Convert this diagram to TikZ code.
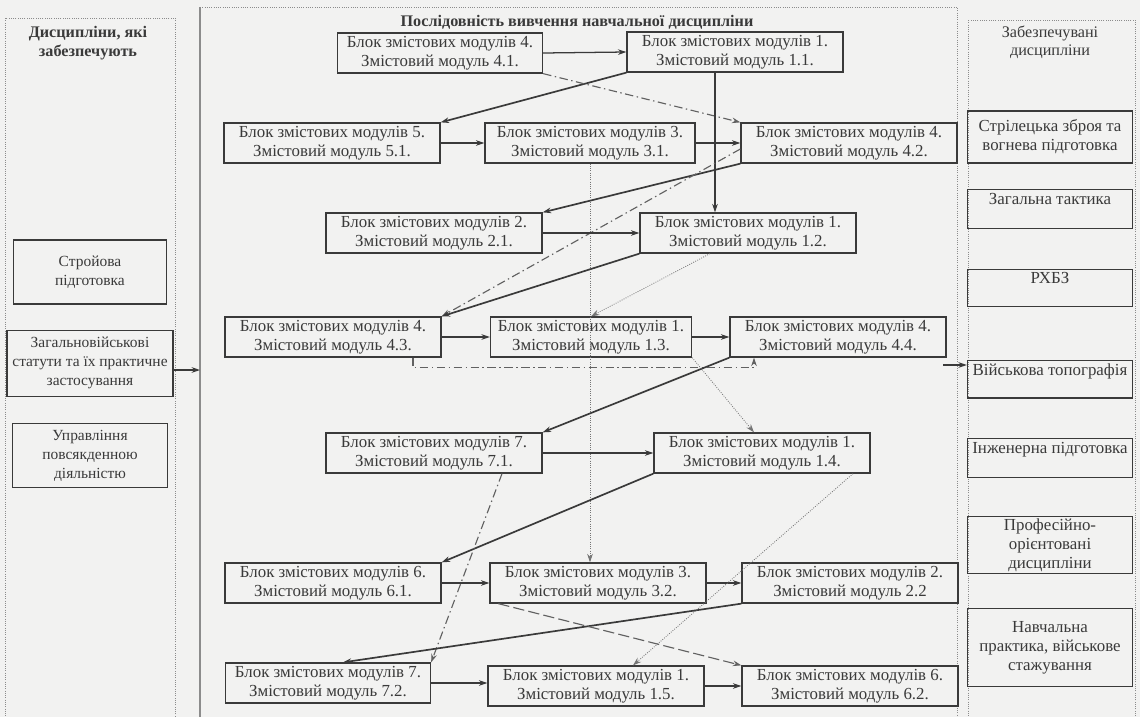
\documentclass[tikz,border=0pt]{standalone}
\usepackage{fontspec}
\setmainfont{Liberation Serif}
\usetikzlibrary{positioning, arrows.meta}

\definecolor{ink}{HTML}{3A3A3A}
\definecolor{paper}{HTML}{F2F2F1}
\definecolor{frame}{HTML}{8C8C8C}

\tikzset{
  blk/.style = {draw = ink, line width = 0.9pt, align = center, text = ink, minimum width = 5.4cm,
    minimum height = 1cm, inner sep = 1pt, font = \fontsize{12}{13.5}\selectfont},
  side/.style = {blk, minimum width = 4.125cm},
  lside/.style = {side, font = \fontsize{11}{13.5}\selectfont},
  upper/.style = {text depth = 0.5cm},
  head/.style = {align = center, text = ink, font = \fontsize{11.5}{13}\selectfont},
  arr/.style = {draw = ink, line width = 0.9pt, -{Stealth[length = 6pt, width = 4pt]}},
  heavy/.style = {arr, line width = 1.2pt},
  dashdot/.style = {arr, line width = 0.8pt, draw = ink!80, dash pattern = on 6pt off 2.5pt on 1pt off 2.5pt},
  thin/.style = {arr, line width = 0.6pt, draw = ink!70, densely dotted},
  panel/.style = {draw = frame, line width = 0.6pt, densely dotted},
}

\begin{document}
\begin{tikzpicture}[x = 0.025cm, y = -0.025cm]
  \fill[paper] (0,0) rectangle (1140,717);
  \useasboundingbox (0,0) rectangle (1140,717);
  \clip (0,0) rectangle (1140,717);

  \draw[panel] (5,18) rectangle (175,730);
  \draw[panel] (200,7) -- (957,7) -- (957,730);
  \draw[frame, line width = 1.6pt] (200,7) -- (200,730);
  \draw[panel] (968,20) rectangle (1135,730);

  \node[head, font = \bfseries\fontsize{11.5}{13}\selectfont] (lt) at (88, 43) {Дисципліни, які\\забезпечують};
  \node[head, font = \bfseries\fontsize{11.5}{13}\selectfont] (mt) at (577, 22) {Послідовність вивчення навчальної дисципліни};
  \node[head] (rt) at (1050, 42) {Забезпечувані\\дисципліни};

  \node[lside, minimum width = 3.825cm, minimum height = 1.6cm] (lp1) at (90, 272) {Стройова\\підготовка};
  \node[lside, minimum width = 4.15cm, minimum height = 1.65cm, below = 0.625cm of lp1] (lp2) {Загальновійськові\\статути та їх практичне\\застосування};
  \node[lside, minimum width = 3.875cm, minimum height = 1.6cm, below = 0.65cm of lp2] (lp3) {Управління\\повсякденною\\діяльністю};

  \node[side, minimum height = 1.3cm] (rp1) at (1050, 137) {Стрілецька зброя та\\вогнева підготовка};
  \node[side, upper, minimum height = 0.975cm, below = 0.625cm of rp1] (rp2) {Загальна тактика};
  \node[side, upper, minimum height = 0.925cm, below = 1cm of rp2] (rp3) {РХБЗ};
  \node[side, upper, minimum height = 0.925cm, below = 1.325cm of rp3] (rp4) {Військова топографія};
  \node[side, upper, minimum height = 0.975cm, below = 0.975cm of rp4] (rp5) {Інженерна підготовка};
  \node[side, minimum height = 1.425cm, below = 0.95cm of rp5] (rp6) {Професійно-\\орієнтовані\\дисципліни};
  \node[side, minimum height = 1.95cm, below = 0.85cm of rp6] (rp7) {Навчальна\\практика, військове\\стажування};

  \node[blk, minimum width = 5.125cm] (b41) at (440, 53) {Блок змістових модулів 4.\\Змістовий модуль 4.1.};
  \node[blk] (b11) at (735, 52) {Блок змістових модулів 1.\\Змістовий модуль 1.1.};
  \node[blk] (b51) at (332, 143) {Блок змістових модулів 5.\\Змістовий модуль 5.1.};
  \node[blk, minimum width = 5.25cm] (b31) at (590, 143) {Блок змістових модулів 3.\\Змістовий модуль 3.1.};
  \node[blk] (b42) at (849, 143) {Блок змістових модулів 4.\\Змістовий модуль 4.2.};
  \node[blk] (b21) at (434, 233) {Блок змістових модулів 2.\\Змістовий модуль 2.1.};
  \node[blk] (b12) at (748, 233) {Блок змістових модулів 1.\\Змістовий модуль 1.2.};
  \node[blk] (b43) at (333, 337) {Блок змістових модулів 4.\\Змістовий модуль 4.3.};
  \node[blk, minimum width = 5.025cm] (b13) at (591, 337) {Блок змістових модулів 1.\\Змістовий модуль 1.3.};
  \node[blk] (b44) at (838, 337) {Блок змістових модулів 4.\\Змістовий модуль 4.4.};
  \node[blk] (b71) at (434, 453) {Блок змістових модулів 7.\\Змістовий модуль 7.1.};
  \node[blk] (b14) at (762, 453) {Блок змістових модулів 1.\\Змістовий модуль 1.4.};
  \node[blk] (b61) at (333, 583) {Блок змістових модулів 6.\\Змістовий модуль 6.1.};
  \node[blk] (b32) at (598, 583) {Блок змістових модулів 3.\\Змістовий модуль 3.2.};
  \node[blk] (b22) at (850, 583) {Блок змістових модулів 2.\\Змістовий модуль 2.2};
  \node[blk, minimum width = 5.125cm] (b72) at (328, 683) {Блок змістових модулів 7.\\Змістовий модуль 7.2.};
  \node[blk] (b15) at (596, 686) {Блок змістових модулів 1.\\Змістовий модуль 1.5.};
  \node[blk] (b62) at (850, 686) {Блок змістових модулів 6.\\Змістовий модуль 6.2.};

  \coordinate (mw) at (200, 370);
  \coordinate (me) at (943, 365);
  \draw[arr] (mw -| lp2.east) -- (mw);
  \draw[arr] (me) -- (me -| rp4.west);

  \draw[arr] (b41.east) -- (b11.west);
  \draw[heavy] (b11.south west) -- (b51.north east);
  \draw[dashdot] (b41.south east) -- (b42.north west);
  \draw[arr] (b51.east) -- (b31.west);
  \draw[arr] (b31.east) -- (b42.west);
  \draw[arr] ([xshift = -0.5cm]b11.south) -- ([xshift = -0.5cm]b11.south |- b12.north);
  \draw[thin] (b31.south) -- (b31.south |- b32.north);
  \draw[heavy] (b42.south west) -- (b21.north east);
  \draw[dashdot] ([yshift = -0.15cm]b42.west) -- (b43.north east);
  \draw[heavy] (b12.south west) -- (b43.north east);
  \draw[arr] (b21.east) -- (b12.west);
  \draw[thin] ([xshift = -0.95cm]b12.south) -- (b13.north);
  \draw[arr] (b43.east) -- (b13.west);
  \draw[arr] (b13.east) -- (b44.west);
  \draw[dashdot] ([xshift = 2cm]b43.south) -- ++(0, 10) -| ([xshift = -2.1cm]b44.south);
  \draw[heavy] (b44.south west) -- (b71.north east);
  \draw[thin] (b13.south east) -- ([xshift = -0.2cm]b14.north);
  \draw[arr] (b71.east) -- (b14.west);
  \draw[heavy] (b14.south west) -- (b61.north east);
  \draw[dashdot] ([xshift = 1.7cm]b71.south) -- (b72.north east);
  \draw[arr] (b61.east) -- (b32.west);
  \draw[arr] (b32.east) -- (b22.west);
  \draw[heavy] (b22.south west) -- ([xshift = 0.375cm]b72.north);
  \draw[dashdot, dash pattern = on 8pt off 3pt] ([xshift = 0.225cm]b32.south west) -- (b62.north west);
  \draw[thin] ([xshift = 2.275cm]b14.south) -- ([xshift = 0.925cm]b15.north);
  \draw[arr] (b72.east) -- (b72.east -| b15.west);
  \draw[arr] (b15.east) -- (b62.west);
\end{tikzpicture}
\end{document}
